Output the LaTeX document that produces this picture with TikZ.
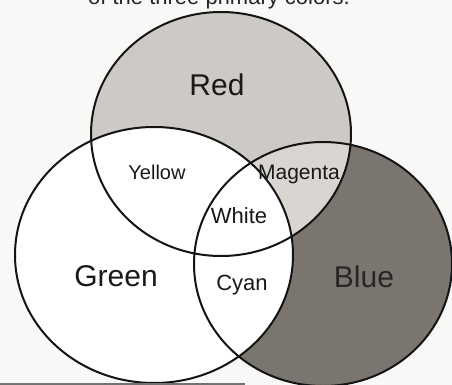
\documentclass[tikz,border=0pt]{standalone}
\usepackage{fontspec}
\setmainfont{Liberation Sans}
\begin{document}
\begin{tikzpicture}[x=1pt,y=-1pt,
  outline/.style={draw=black!92, line width=2pt},
  biglabel/.style={font=\fontsize{30}{30}\selectfont, text=black!90, inner sep=0pt},
  smalllabel/.style={font=\fontsize{20}{20}\selectfont, text=black!90, inner sep=0pt},
  redshape/.style={x radius=130pt, y radius=122pt},
  greenshape/.style={x radius=139pt, y radius=128pt},
  blueshape/.style={x radius=129pt, y radius=122pt}]
\definecolor{bg}{HTML}{F8F8F6}
\definecolor{redfill}{HTML}{CDC9C4}
\definecolor{bluefill}{HTML}{7A756E}
\definecolor{magfill}{HTML}{D9D5D0}
\useasboundingbox (0,0) rectangle (452,385);
\fill[bg] (0,0) rectangle (452,385);
% cut-off caption line at the top
\begin{scope}
  \clip (0,0) rectangle (452,9);
  \node[anchor=base east, font=\fontsize{22}{22}\selectfont, text=black!85, inner sep=0pt] (caption) at (350,5) {of the three primary colors.};
\end{scope}
\coordinate (R) at (221,134);
\coordinate (G) at (154,255);
\coordinate (B) at (323,264);
\fill[redfill] (R) ellipse [redshape];
\fill[bluefill] (B) ellipse [blueshape];
\begin{scope}
  \clip (R) ellipse [redshape];
  \fill[magfill] (B) ellipse [blueshape];
\end{scope}
\fill[white] (G) ellipse [greenshape];
\draw[outline] (R) ellipse [redshape];
\draw[outline] (B) ellipse [blueshape];
\draw[outline] (G) ellipse [greenshape];
% labels
\node[biglabel] (red) at (217,85) {Red};
\node[biglabel] (green) at (116,276) {Green};
\node[biglabel, text=black!85] (blue) at (364,277) {Blue};
\node[smalllabel] (yellow) at (157,172) {Yellow};
\node[smalllabel, font=\fontsize{21}{21}\selectfont] (magenta) at (299,174) {Magenta};
\node[smalllabel, font=\fontsize{22}{22}\selectfont] (white) at (239,216) {White};
\node[smalllabel, font=\fontsize{22}{22}\selectfont] (cyan) at (242,285) {Cyan};
% dark edge at the bottom of the photo
\fill[black!55] (0,383) rectangle (245,385);
\end{tikzpicture}
\end{document}
